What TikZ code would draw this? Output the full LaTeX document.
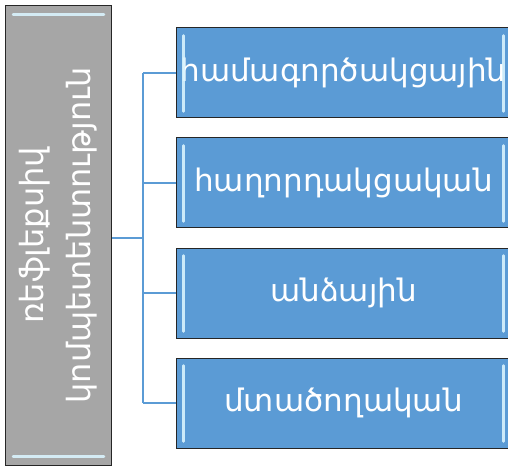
\documentclass[tikz,border=0pt]{standalone}
\usepackage{fontspec}
\newfontfamily\armfont{DejaVu Sans}
\usepackage{tikz}
\definecolor{boxblue}{RGB}{91,155,213}
\definecolor{boxgray}{RGB}{166,166,166}

\begin{document}
\begin{tikzpicture}[x=1pt, y=-1pt,
    graybox/.style={draw=black!85, line width=1pt, fill=boxgray, text=white, rotate=90,
        minimum width=459pt, minimum height=106pt, inner sep=0pt, align=center,
        font=\armfont\fontsize{32}{47}\selectfont},
    bluebox/.style={draw=black!85, line width=1pt, fill=boxblue, text=white,
        minimum width=335pt, minimum height=90pt, inner sep=0pt,
        font=\armfont\fontsize{31}{34}\selectfont},
    bevel/.style={white!85!cyan, line width=2.5pt, line cap=round, opacity=0.9},
    link/.style={boxblue, line width=1.8pt}]
    \useasboundingbox (0,0) rectangle (508,470);
    \node[graybox] (comp) at (58.5,235.5) {ռեֆլեքսիվ\\կոմպետենտություն};
    \draw[bevel] ([xshift=8pt,yshift=-9pt]comp.north east) -- ([xshift=-8pt,yshift=-9pt]comp.south east);
    \draw[bevel] ([xshift=8pt,yshift=9pt]comp.north west) -- ([xshift=-8pt,yshift=9pt]comp.south west);
    \foreach \t [count=\i] in {համագործակցային, հաղորդակցական, անձային, մտածողական} {
        \node[bluebox] (b\i) at (343.5, 73+110*\i-110) {\t};
        \draw[bevel] ([xshift=8pt,yshift=-8pt]b\i.north west) -- ([xshift=8pt,yshift=7pt]b\i.south west);
        \draw[bevel] ([xshift=-8pt,yshift=-8pt]b\i.north east) -- ([xshift=-8pt,yshift=7pt]b\i.south east);
    }
    \coordinate (bus) at (143,238);
    \draw[link] (comp.south |- bus) -- (bus);
    \draw[link] (bus |- b1.west) -- (bus |- b4.west);
    \foreach \i in {1,...,4}
        \draw[link] (bus |- b\i.west) -- (b\i.west);
\end{tikzpicture}
\end{document}
